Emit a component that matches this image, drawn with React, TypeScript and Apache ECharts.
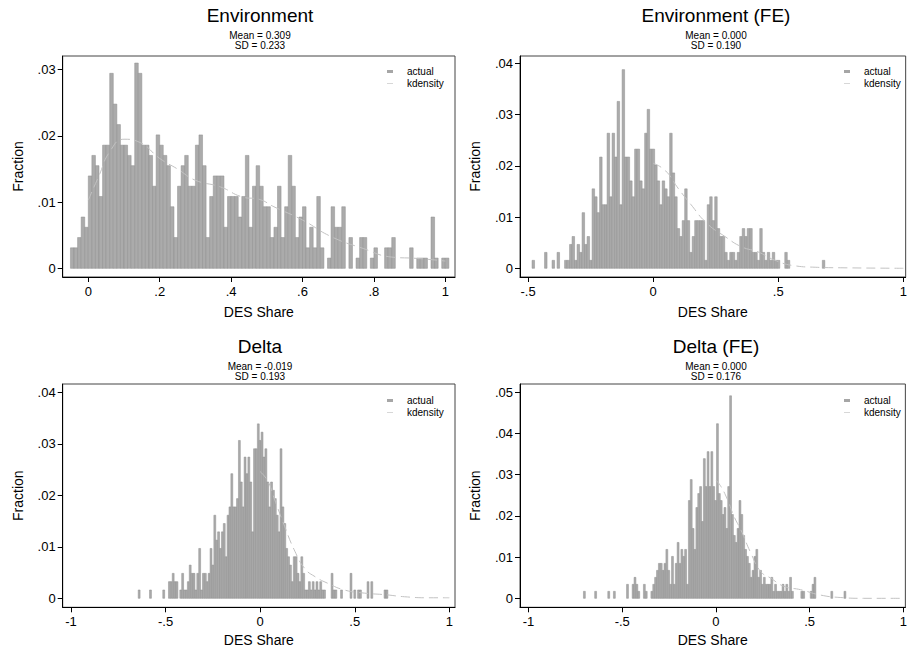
import React, { useEffect, useRef } from "react";
import * as echarts from "echarts";

// ---------- data (counts per 0.01-wide bin) ----------
const BIN_WIDTH = 0.01;

// Environment
const ENV_START = -0.05;
const ENV_N = 645;
const ENV_COUNTS = [
  2, 2, 3, 5, 4, 9, 11, 10, 7, 12,
  12, 19, 16, 14, 12, 12, 11, 10, 20, 19,
  12, 12, 11, 8, 13, 12, 11, 10, 6, 3,
  8, 10, 11, 8, 8, 12, 13, 10, 3, 7,
  9, 9, 9, 4, 7, 7, 7, 5, 7, 11,
  4, 8, 10, 8, 6, 6, 3, 4, 8, 3,
  6, 11, 8, 3, 5, 6, 2, 4, 2, 7,
  2, 0, 1, 6, 4, 4, 6, 0, 3, 0,
  1, 3, 3, 0, 1, 2, 0, 0, 2, 2,
  3, 0, 0, 0, 0, 2, 0, 1, 1, 1,
  0, 5, 1, 0, 1, 1,
];
const ENV_KD_X = [0, 0.03, 0.06, 0.1, 0.145, 0.2, 0.25, 0.3, 0.37, 0.43, 0.48, 0.52, 0.6, 0.68, 0.77, 0.85, 0.92, 1.0];
const ENV_KD_Y = [0.0103, 0.014, 0.0176, 0.0195, 0.019, 0.0166, 0.015, 0.0133, 0.0123, 0.0108, 0.0104, 0.0093, 0.0073, 0.0048, 0.003, 0.0017, 0.0015, 0.0011];

// Environment (FE)
const ENVFE_START = -0.484;
const ENVFE_N = 645;
const ENVFE_COUNTS = [
  1, 0, 0, 0, 0, 2, 0, 0, 1, 0,
  2, 0, 0, 1, 1, 3, 4, 1, 3, 2,
  7, 3, 4, 1, 10, 9, 7, 14, 8, 8,
  17, 9, 17, 14, 21, 8, 25, 14, 14, 11,
  9, 15, 15, 11, 10, 17, 20, 15, 15, 13,
  11, 8, 11, 10, 9, 17, 12, 9, 5, 4,
  6, 10, 6, 2, 4, 6, 6, 6, 6, 1,
  8, 9, 6, 9, 5, 4, 4, 2, 1, 2,
  2, 1, 2, 4, 5, 4, 5, 5, 2, 2,
  1, 5, 2, 1, 2, 1, 2, 1, 1, 0,
  0, 2, 1, 0, 0, 0, 0, 0, 0, 0,
  0, 0, 0, 0, 0, 0, 1,
];
const ENVFE_KD_X = [0, 0.05, 0.1, 0.15, 0.214, 0.287, 0.353, 0.419, 0.485, 0.564, 0.65, 0.75, 1.0];
const ENVFE_KD_Y = [0.0205, 0.019, 0.0156, 0.0125, 0.0088, 0.0062, 0.0042, 0.0032, 0.0016, 0.0005, 0.0002, 0.0001, 0];

// Delta
const DELTA_START = -0.645;
const DELTA_N = 620;
const DELTA_COUNTS = [
  1, 0, 0, 0, 0, 0, 1, 0, 0, 0,
  0, 0, 0, 1, 0, 0, 2, 2, 3, 2,
  2, 0, 1, 3, 1, 1, 2, 4, 3, 3,
  1, 3, 6, 1, 3, 3, 2, 3, 6, 4,
  10, 7, 8, 6, 8, 9, 5, 10, 11, 15,
  11, 11, 12, 19, 14, 11, 17, 15, 17, 14,
  8, 18, 18, 21, 19, 20, 17, 18, 14, 11,
  14, 13, 12, 10, 8, 18, 11, 9, 6, 5,
  4, 2, 5, 5, 3, 2, 5, 3, 1, 1,
  2, 1, 2, 1, 2, 1, 2, 1, 1, 0,
  0, 0, 3, 1, 1, 0, 0, 1, 0, 0,
  0, 0, 3, 0, 1, 0, 1, 1, 0, 0,
  0, 2, 0, 2, 0, 0, 0, 0, 0, 0,
  1, 1,
];
const DELTA_KD_X = [0, 0.041, 0.077, 0.13, 0.18, 0.235, 0.29, 0.358, 0.446, 0.552, 0.66, 0.763, 0.886, 1.0];
const DELTA_KD_Y = [0.0246, 0.0227, 0.0191, 0.0139, 0.0094, 0.0058, 0.0042, 0.0029, 0.0016, 0.001, 0.0007, 0.0003, 0.0001, 0.0001];

// Delta (FE)
const DELTAFE_START = -0.707;
const DELTAFE_N = 590;
const DELTAFE_COUNTS = [
  1, 0, 0, 0, 0, 0, 1, 0, 0, 0,
  0, 0, 0, 1, 0, 0, 1, 0, 0, 0,
  0, 0, 0, 2, 0, 0, 2, 3, 2, 1,
  0, 0, 2, 1, 0, 0, 1, 2, 3, 4,
  5, 5, 4, 5, 7, 4, 2, 6, 2, 5,
  8, 5, 7, 6, 7, 2, 14, 17, 10, 7,
  13, 15, 16, 11, 20, 16, 21, 16, 21, 16,
  14, 25, 15, 14, 12, 13, 10, 16, 29, 12,
  9, 8, 10, 14, 12, 9, 7, 6, 5, 3,
  4, 6, 7, 3, 4, 2, 3, 2, 2, 2,
  3, 1, 2, 1, 1, 1, 2, 1, 2, 1,
  3, 1, 0, 0, 0, 0, 1, 1, 0, 0,
  0, 1, 2, 3, 0, 0, 0, 0, 0, 0,
  0, 0, 1, 0, 0, 0, 0, 0, 0, 1,
];
const DELTAFE_KD_X = [0, 0.027, 0.062, 0.097, 0.133, 0.186, 0.239, 0.292, 0.363, 0.451, 0.557, 0.663, 0.787, 1.0];
const DELTAFE_KD_Y = [0.0287, 0.0271, 0.0239, 0.0198, 0.0166, 0.011, 0.0065, 0.0049, 0.0029, 0.0021, 0.0008, 0.0002, 0, 0];

// Titles / stats
const TITLES = ["Environment", "Environment (FE)", "Delta", "Delta (FE)"];
const MEANS = ["0.309", "0.000", "-0.019", "0.000"];
const SDS = ["0.233", "0.190", "0.193", "0.176"];

// Tick values
const Y_TICKS = [
  [0, 0.01, 0.02, 0.03],
  [0, 0.01, 0.02, 0.03, 0.04],
  [0, 0.01, 0.02, 0.03, 0.04],
  [0, 0.01, 0.02, 0.03, 0.04, 0.05],
];
const X_TICKS = [
  [0, 0.2, 0.4, 0.6, 0.8, 1],
  [-0.5, 0, 0.5, 1],
  [-1, -0.5, 0, 0.5, 1],
  [-1, -0.5, 0, 0.5, 1],
];

// ---------- helpers ----------
function toBars(counts: number[], start: number, n: number) {
  const out: number[][] = [];
  counts.forEach((c, i) => {
    if (c > 0) out.push([start + i * BIN_WIDTH, start + (i + 1) * BIN_WIDTH, c / n]);
  });
  return out;
}
function toLine(xs: number[], ys: number[]) {
  return xs.map((x, i) => [x, ys[i]]);
}
function fmt(v: number) {
  if (Math.abs(v) < 1e-9) return "0";
  const s = String(+v.toFixed(3));
  return s.replace(/^(-?)0\./, "$1.");
}

const FONT = "Liberation Sans, Arial, Helvetica, sans-serif";

export default function App() {
  const ref = useRef<HTMLDivElement>(null);
  useEffect(() => {
    if (!ref.current) return;
    const chart = echarts.init(ref.current, null, { renderer: "svg" });

    const panelBars = [
      toBars(ENV_COUNTS, ENV_START, ENV_N),
      toBars(ENVFE_COUNTS, ENVFE_START, ENVFE_N),
      toBars(DELTA_COUNTS, DELTA_START, DELTA_N),
      toBars(DELTAFE_COUNTS, DELTAFE_START, DELTAFE_N),
    ];
    const panelKd = [
      toLine(ENV_KD_X, ENV_KD_Y),
      toLine(ENVFE_KD_X, ENVFE_KD_Y),
      toLine(DELTA_KD_X, DELTA_KD_Y),
      toLine(DELTAFE_KD_X, DELTAFE_KD_Y),
    ];

    const grids = [
      { left: 62.7, top: 56, width: 392.3, height: 221 },
      { left: 520, top: 56, width: 389, height: 221 },
      { left: 62.7, top: 384, width: 392.3, height: 223.3 },
      { left: 520, top: 384, width: 389, height: 223.3 },
    ];
    const yRange = [
      [-0.00131, 0.03207],
      [-0.0017, 0.04142],
      [-0.00175, 0.04161],
      [-0.00218, 0.05201],
    ];
    const xRange = [
      [-0.0717, 1.0272],
      [-0.5321, 1.0091],
      [-1.0441, 1.0299],
      [-1.0455, 1.0106],
    ];
    const titleCenters = [260, 716, 260, 716];
    const titleTops = [5, 5, 336, 336];
    const xNameGap = [28, 28, 26, 26];
    const legendPos = [
      { left: 387, top: 66 },
      { left: 844, top: 66 },
      { left: 387, top: 395 },
      { left: 844, top: 395 },
    ];

    const barColor = "#ababab";
    const barStroke = "#8e8e8e";
    const kdColor = "#c2c2c2";

    const series: any[] = [];
    for (let p = 0; p < 4; p++) {
      series.push({
        type: "custom",
        name: "actual",
        xAxisIndex: p,
        yAxisIndex: p,
        itemStyle: { color: "#a6a6a6" },
        encode: { x: [0, 1], y: 2 },
        data: panelBars[p],
        z: 2,
        renderItem: (params: any, api: any) => {
          const x0 = api.value(0);
          const x1 = api.value(1);
          const y = api.value(2);
          const a = api.coord([x0, y]);
          const b = api.coord([x1, 0]);
          return {
            type: "rect",
            shape: { x: a[0], y: a[1], width: b[0] - a[0], height: b[1] - a[1] },
            style: { fill: barColor, stroke: barStroke, lineWidth: 0.5 },
          };
        },
      });
      series.push({
        type: "line",
        name: "kdensity",
        xAxisIndex: p,
        yAxisIndex: p,
        data: panelKd[p],
        smooth: true,
        symbol: "none",
        z: 3,
        lineStyle: { color: kdColor, width: 1, type: [9, 5] },
        itemStyle: { color: kdColor },
      });
    }

    const option: any = {
      animation: false,
      backgroundColor: "#ffffff",
      textStyle: { fontFamily: FONT },
      title: TITLES.map((t, i) => ({
        text: t,
        subtext: `Mean = ${MEANS[i]}\nSD = ${SDS[i]}`,
        left: titleCenters[i],
        top: titleTops[i],
        textAlign: "center",
        padding: 0,
        itemGap: 5,
        textStyle: { fontFamily: FONT, fontSize: 19, fontWeight: "normal", color: "#000", lineHeight: 20 },
        subtextStyle: { fontFamily: FONT, fontSize: 10, color: "#000", lineHeight: 10, align: "center" },
      })),
      legend: legendPos.map((lp) => ({
        ...lp,
        orient: "vertical",
        padding: 0,
        itemGap: 1,
        itemWidth: 6,
        itemHeight: 3,
        selectedMode: false,
        textStyle: { fontFamily: FONT, fontSize: 10, color: "#000", lineHeight: 11, padding: [0, 0, 0, 9] },
        data: [
          { name: "actual", icon: "rect", itemStyle: { color: "#a6a6a6" } },
          {
            name: "kdensity",
            icon: "path://M0,0L0,0M0,1L10,1L10,2L0,2ZM10,3L10,3",
            itemStyle: { color: "#bdbdbd" },
          },
        ],
      })),
      grid: grids.map((g) => ({
        ...g,
        show: true,
        borderColor: "#444",
        borderWidth: 1,
        backgroundColor: "#fff",
        containLabel: false,
      })),
      xAxis: [0, 1, 2, 3].map((p) => ({
        type: "value",
        gridIndex: p,
        min: xRange[p][0],
        max: xRange[p][1],
        name: "DES Share",
        nameLocation: "middle",
        nameGap: xNameGap[p],
        nameTextStyle: { fontFamily: FONT, fontSize: 14, color: "#000" },
        axisLine: { show: true, onZero: false, lineStyle: { color: "#000", width: 1 } },
        axisTick: { show: true, length: 5, inside: false, customValues: X_TICKS[p], lineStyle: { color: "#000" } },
        axisLabel: {
          show: true,
          margin: 8,
          customValues: X_TICKS[p],
          formatter: (v: number) => fmt(v),
          fontFamily: FONT,
          fontSize: 13,
          color: "#000",
        },
        splitLine: { show: false },
      })),
      yAxis: [0, 1, 2, 3].map((p) => ({
        type: "value",
        gridIndex: p,
        min: yRange[p][0],
        max: yRange[p][1],
        name: "Fraction",
        nameLocation: "middle",
        nameRotate: 90,
        nameGap: 38,
        nameTextStyle: { fontFamily: FONT, fontSize: 14, color: "#000" },
        axisLine: { show: true, onZero: false, lineStyle: { color: "#000", width: 1 } },
        axisTick: { show: true, length: 5, inside: false, customValues: Y_TICKS[p], lineStyle: { color: "#000" } },
        axisLabel: {
          show: true,
          margin: 7,
          customValues: Y_TICKS[p],
          formatter: (v: number) => fmt(v),
          fontFamily: FONT,
          fontSize: 13,
          color: "#000",
        },
        splitLine: { show: false },
      })),
      series,
    };

    chart.setOption(option);
    return () => chart.dispose();
  }, []);

  return (
    <div
      ref={ref}
      style={{ position: "fixed", left: 0, top: 0, width: 910, height: 653, background: "#fff" }}
    />
  );
}
